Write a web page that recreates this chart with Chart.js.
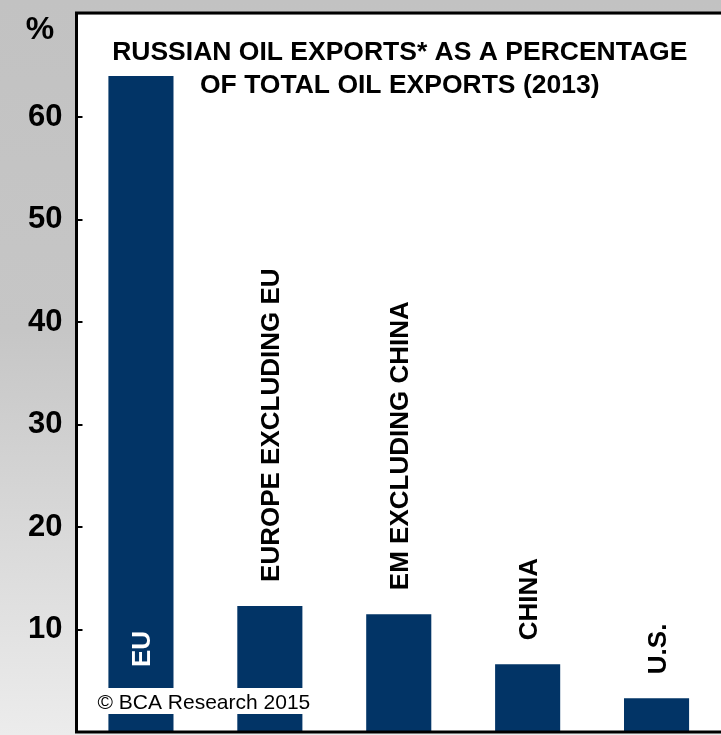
<!DOCTYPE html>
<html>
<head>
<meta charset="utf-8">
<title>Russian oil exports</title>
<script src="https://cdn.jsdelivr.net/npm/chart.js@4"></script>
<style>
  html, body { margin: 0; padding: 0; background: #c2c2c2; }
  #wrap { width: 721px; height: 735px; position: relative; }
</style>
</head>
<body>
<div id="wrap"><canvas id="exportsChart"></canvas></div>
<script>
// Russian oil exports as % of each region's total oil exports, 2013
const categories = ['EU', 'EUROPE EXCLUDING EU', 'EM EXCLUDING CHINA', 'CHINA', 'U.S.'];
const shares = [64.0, 12.3, 11.5, 6.6, 3.3];
const yTicks = [10, 20, 30, 40, 50, 60];
const titleLines = ['RUSSIAN OIL EXPORTS* AS A PERCENTAGE', 'OF TOTAL OIL EXPORTS (2013)'];
const unitLabel = '%';
const sourceNote = '\u00A9 BCA Research 2015';

const FONT = '"Liberation Sans", Arial, Helvetica, sans-serif';
const NAVY = '#023466';

// gray page with a lighter fade toward the bottom, white plot area
const backdrop = {
    id: 'backdrop',
    beforeDraw(chart) {
        const { ctx, width, height, chartArea } = chart;
        const g = ctx.createLinearGradient(0, 0, 0, height);
        g.addColorStop(0, '#c2c2c2');
        g.addColorStop(0.45, '#c6c6c6');
        g.addColorStop(1, '#ececec');
        ctx.save();
        ctx.fillStyle = g;
        ctx.fillRect(0, 0, width, height);
        ctx.fillStyle = '#ffffff';
        ctx.fillRect(chartArea.left, chartArea.top, width - chartArea.left, chartArea.bottom - chartArea.top);
        ctx.restore();
    }
};

const decor = {
    id: 'decor',
    afterDatasetsDraw(chart) {
        const { ctx, width, chartArea } = chart;
        const { left, top, bottom } = chartArea;
        const yScale = chart.scales.y;
        ctx.save();

        // category names, rotated; the tall bar carries its name inside
        ctx.font = 'bold 26px ' + FONT;
        ctx.textAlign = 'left';
        ctx.textBaseline = 'alphabetic';
        const meta = chart.getDatasetMeta(0);
        meta.data.forEach((bar, i) => {
            const inside = shares[i] > 40;
            const anchorY = inside ? bottom - 65 : bar.y - 24;
            ctx.save();
            ctx.translate(bar.x, anchorY);
            ctx.rotate(-Math.PI / 2);
            ctx.fillStyle = inside ? '#ffffff' : '#000000';
            ctx.fillText(categories[i], 0, 9.5);
            ctx.restore();
        });

        // title
        ctx.fillStyle = '#000000';
        ctx.font = 'bold 26.5px ' + FONT;
        ctx.textAlign = 'center';
        const cx = (left + width) / 2 + 1;
        ctx.fillText(titleLines[0], cx, top + 45.5);
        ctx.fillText(titleLines[1], cx, top + 78.5);

        // source box over the bars
        ctx.font = '21px ' + FONT;
        const noteW = ctx.measureText(sourceNote).width;
        ctx.fillStyle = '#ffffff';
        ctx.fillRect(left + 19, bottom - 44, noteW + 4, 26);
        ctx.fillStyle = '#000000';
        ctx.textAlign = 'left';
        ctx.fillText(sourceNote, left + 21, bottom - 23);

        // frame
        ctx.strokeStyle = '#000000';
        ctx.lineWidth = 3;
        ctx.beginPath();
        ctx.moveTo(left, bottom + 1.5);
        ctx.lineTo(left, top - 1.5);
        ctx.lineTo(width, top - 1.5);
        ctx.moveTo(left - 1.5, bottom);
        ctx.lineTo(width, bottom);
        ctx.stroke();

        // inward tick marks on the value axis
        ctx.lineWidth = 2;
        ctx.beginPath();
        yTicks.forEach(v => {
            const y = Math.round(yScale.getPixelForValue(v));
            ctx.moveTo(left, y);
            ctx.lineTo(left + 6, y);
        });
        ctx.stroke();

        // unit marker above the axis labels
        ctx.font = 'bold 32px ' + FONT;
        ctx.textAlign = 'center';
        ctx.fillText(unitLabel, 40, 39);
        ctx.restore();
    }
};

new Chart(document.getElementById('exportsChart'), {
    type: 'bar',
    data: {
        labels: categories,
        datasets: [{
            data: shares,
            backgroundColor: NAVY,
            borderWidth: 0,
            categoryPercentage: 1,
            barPercentage: 0.505
        }]
    },
    options: {
        responsive: true,
        maintainAspectRatio: false,
        devicePixelRatio: 1,
        animation: false,
        layout: { padding: { top: 14.5, right: 0, bottom: 3, left: 0 } },
        plugins: {
            legend: { display: false },
            tooltip: { enabled: false },
            title: { display: false }
        },
        scales: {
            x: {
                display: false,
                offset: true
            },
            y: {
                min: 0,
                max: 70,
                grid: { display: false, drawTicks: false },
                border: { display: false },
                afterBuildTicks(scale) {
                    scale.ticks = yTicks.map(v => ({ value: v }));
                },
                afterFit(scale) {
                    scale.width = 76.5;
                    scale.paddingTop = 0;
                    scale.paddingBottom = 0;
                },
                ticks: {
                    padding: 14,
                    color: '#000000',
                    font: { family: FONT, size: 31, weight: 'bold' }
                }
            }
        }
    },
    plugins: [backdrop, decor]
});
</script>
</body>
</html>
